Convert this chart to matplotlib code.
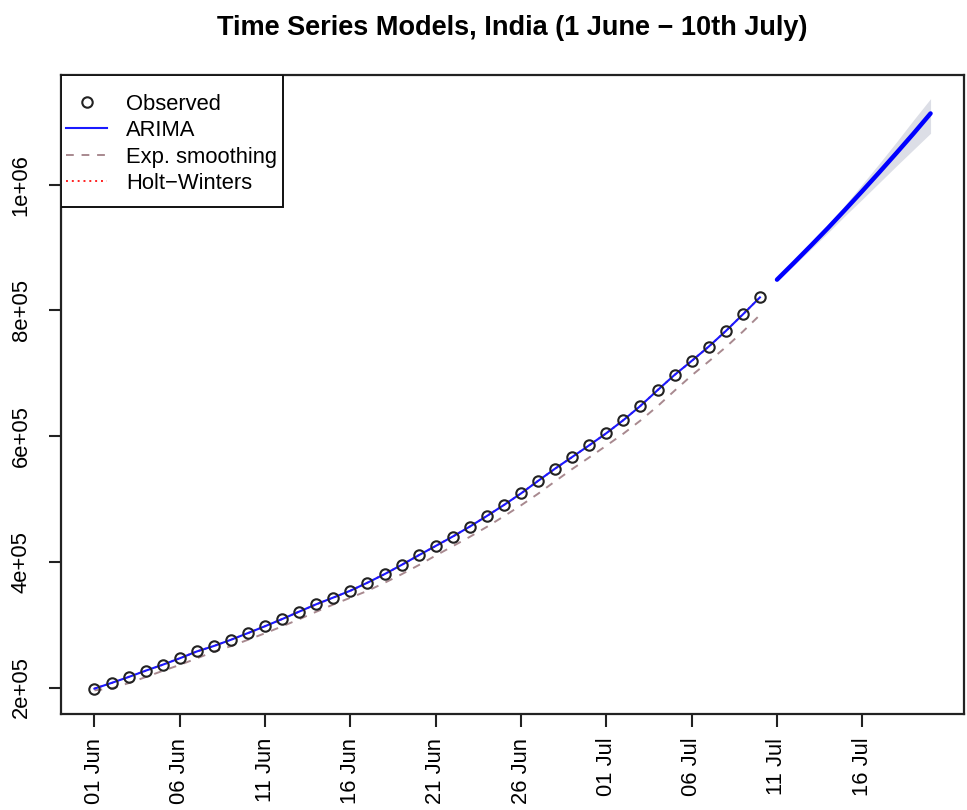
import datetime as dt
import matplotlib
matplotlib.use("Agg")
import matplotlib.pyplot as plt
import matplotlib.dates as mdates
from matplotlib.patches import Rectangle
from matplotlib.ticker import FixedLocator, FuncFormatter

plt.rcParams['font.family'] = ['Liberation Sans', 'DejaVu Sans']

# cumulative confirmed cases, India, 1 June - 10 July
observed = [198370, 207191, 216824, 226713, 236184, 246622, 257486, 265928,
            276146, 286579, 297535, 308993, 320922, 332424, 343091, 354065,
            366946, 380532, 395048, 410451, 425282, 440215, 456183, 473105,
            490401, 508953, 528859, 548318, 566840, 585481, 604641, 625544,
            648315, 673165, 697413, 719665, 742417, 767296, 793802, 820916]

# in-sample fitted values of each model
arima_fit = [198200, 207300, 216700, 226800, 236300, 246500, 257400, 266100,
             276000, 286700, 297600, 308900, 320800, 332500, 343200, 354100,
             366800, 380400, 395100, 410400, 425300, 440300, 456100, 473000,
             490500, 508900, 528800, 548400, 566900, 585500, 604700, 625500,
             648200, 673100, 697500, 719700, 742500, 767300, 793700, 820800]

exp_fit = [195500, 198500, 207000, 216600, 226500, 236000, 246400, 257200,
           265800, 276000, 286400, 297300, 308700, 320600, 332100, 342900,
           353800, 366600, 380200, 394700, 410000, 424900, 439800, 455700,
           472600, 489900, 508400, 528200, 547700, 566200, 584900, 604000,
           624900, 647600, 672400, 696600, 718900, 741600, 766400, 792800]

hw_fit = [198400, 207100, 216900, 226600, 236200, 246700, 257400, 266000,
          276200, 286500, 297500, 309000, 320900, 332400, 343100, 354000,
          366900, 380500, 395000, 410500, 425200, 440200, 456200, 473100,
          490400, 508900, 528900, 548300, 566800, 585500, 604600, 625600,
          648300, 673200, 697400, 719600, 742400, 767300, 793800, 820900]

# ARIMA forecast, 11 - 20 July, with interval bounds
fc_mean = [849000, 876000, 903500, 931500, 960500, 990000, 1020000, 1050500,
           1081500, 1113500]
fc_hi = [851000, 879000, 908000, 937500, 968000, 1001000, 1034000, 1068000,
         1103000, 1137000]
fc_lo = [846500, 872000, 898000, 924000, 951000, 977000, 1003500, 1030000,
         1056000, 1082000]

start = dt.date(2020, 6, 1)
obs_dates = [start + dt.timedelta(days=i) for i in range(len(observed))]
fc_start = obs_dates[-1] + dt.timedelta(days=1)
fc_dates = [fc_start + dt.timedelta(days=i) for i in range(len(fc_mean))]
tick_dates = obs_dates[::5] + fc_dates[::5]

fig = plt.figure(figsize=(9.67, 8.10), dpi=100)
ax = fig.add_axes([0.0631, 0.1185, 0.9338, 0.7889])

ax.fill_between(fc_dates, fc_lo, fc_hi, color='#dcdee6', lw=0, zorder=1)
ax.plot(fc_dates, fc_mean, color='#0000ff', lw=3.2, solid_capstyle='round',
        zorder=2)

ax.plot(obs_dates, exp_fit, color='#a8898f', lw=1.4, ls=(0, (4, 4)),
        zorder=3, label='Exp. smoothing')
ax.plot(obs_dates, hw_fit, color='#ff2020', lw=1.4, ls=(0, (1, 2)),
        zorder=3, label='Holt\u2212Winters')
ax.plot(obs_dates, arima_fit, color='#1a1aff', lw=1.5, zorder=4,
        label='ARIMA')
ax.plot(obs_dates, observed, ls='none', marker='o', ms=7.5, mfc='none',
        mec='#222222', mew=1.5, zorder=5, label='Observed')

# R-style 4% padding around the data
d0 = mdates.date2num(obs_dates[0])
d1 = mdates.date2num(fc_dates[-1])
pad = 0.04 * (d1 - d0)
ax.set_xlim(d0 - pad, d1 + pad)
ymin = min(observed + exp_fit)
ymax = max(fc_hi)
ypad = 0.04 * (ymax - ymin)
ax.set_ylim(ymin - ypad, ymax + ypad)

ax.xaxis.set_major_locator(FixedLocator(mdates.date2num(tick_dates)))
ax.xaxis.set_major_formatter(mdates.DateFormatter('%d %b'))
ax.set_yticks([200000, 400000, 600000, 800000, 1000000])
ax.yaxis.set_major_formatter(FuncFormatter(
    lambda v, p: '%.0e' % v))

ax.tick_params(axis='x', labelrotation=90, length=9, width=1.5, pad=8,
               labelsize=15.8, color='#222222')
ax.tick_params(axis='y', labelrotation=90, length=9, width=1.5, pad=12,
               labelsize=15.8, color='#222222')
for lbl in ax.get_yticklabels():
    lbl.set_va('center')
for s in ax.spines.values():
    s.set_linewidth(1.6)
    s.set_color('#222222')

# legend box drawn separately so the padding can differ per side
ax.add_patch(Rectangle((0, 1 - 0.2066), 0.2458, 0.2066,
                       transform=ax.transAxes, facecolor='white',
                       edgecolor='#111111', lw=1.4, zorder=6))
handles, labels = ax.get_legend_handles_labels()
order = [3, 2, 0, 1]
leg = ax.legend([handles[i] for i in order], [labels[i] for i in order],
                loc='upper left', bbox_to_anchor=(0.0055, 0.971),
                borderaxespad=0, borderpad=0, frameon=False, fontsize=15.8,
                handlelength=1.87, handletextpad=0.86, labelspacing=0.25)
leg.set_zorder(7)

fig.text(0.530, 0.965, 'Time Series Models, India (1 June \u2212 10th July)',
         fontsize=19.5, fontweight='bold', ha='center', va='center')

fig.savefig('out.png', dpi=100)
